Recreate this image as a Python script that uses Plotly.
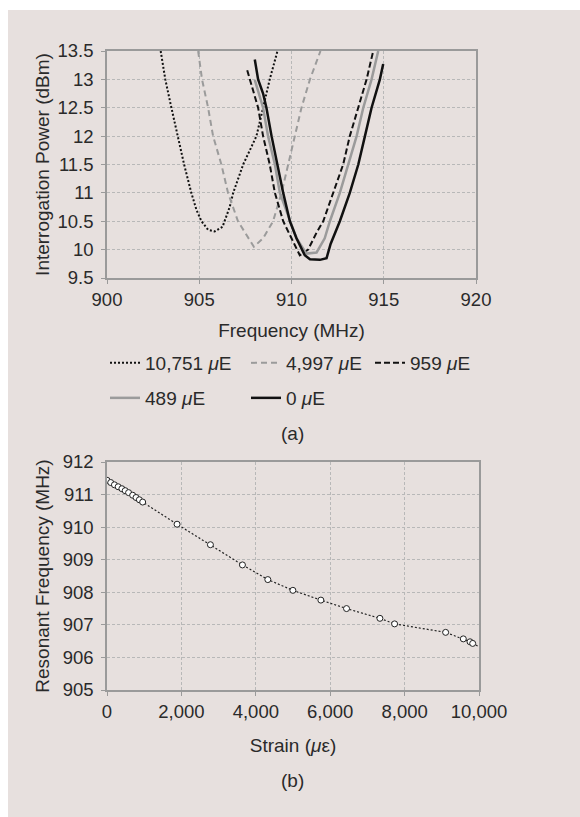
import plotly.graph_objects as go

# ---- (a) interrogation power vs frequency ----
f_10751 = [902.91, 903.16, 903.49, 903.82, 904.18, 904.57, 904.85, 905.12, 905.48, 905.84, 906.26, 906.65, 906.84, 907.38, 908.10, 908.46, 908.82, 909.24]
p_10751 = [13.5, 13.0, 12.5, 12.0, 11.5, 11.0, 10.7, 10.5, 10.35, 10.32, 10.4, 10.75, 11.0, 11.5, 12.0, 12.5, 13.0, 13.5]

f_4997 = [904.94, 905.15, 905.48, 905.75, 906.20, 906.56, 907.10, 907.65, 907.96, 908.46, 909.00, 909.46, 909.82, 910.18, 910.54, 911.00, 911.57]
p_4997 = [13.5, 13.0, 12.5, 12.0, 11.5, 11.0, 10.5, 10.2, 10.05, 10.2, 10.5, 11.0, 11.5, 12.0, 12.5, 13.0, 13.5]

f_959 = [907.60, 908.19, 908.46, 908.82, 909.10, 909.55, 910.00, 910.45, 910.90, 911.36, 911.72, 912.26, 912.80, 913.16, 913.62, 914.07, 914.43]
p_959 = [13.16, 12.5, 12.0, 11.5, 11.0, 10.5, 10.2, 9.9, 10.0, 10.3, 10.5, 11.0, 11.5, 12.0, 12.5, 13.0, 13.5]

f_489 = [908.01, 908.46, 908.73, 909.10, 909.37, 909.91, 910.27, 910.81, 911.36, 911.80, 912.08, 912.62, 913.07, 913.53, 913.89, 914.34, 914.70]
p_489 = [12.99, 12.5, 12.0, 11.5, 11.0, 10.5, 10.2, 9.93, 9.95, 10.2, 10.5, 11.0, 11.5, 12.0, 12.5, 13.0, 13.5]

f_0 = [908.01, 908.19, 908.46, 908.64, 908.92, 909.22, 909.55, 909.91, 910.27, 910.72, 911.00, 911.54, 911.90, 912.12, 912.62, 913.16, 913.62, 913.98, 914.34, 914.79, 914.97]
p_0 = [13.35, 13.0, 12.75, 12.5, 12.0, 11.5, 11.0, 10.5, 10.2, 9.9, 9.83, 9.82, 9.85, 10.1, 10.5, 11.0, 11.5, 12.0, 12.5, 13.0, 13.27]

labels_a = ["10,751 <i>μ</i>E", "4,997 <i>μ</i>E", "959 <i>μ</i>E", "489 <i>μ</i>E", "0 <i>μ</i>E"]

# ---- (b) resonant frequency vs strain ----
strain = [0, 100, 200, 300, 400, 489, 580, 690, 780, 870, 959, 1883, 2780, 3641, 4323, 4997, 5749, 6439, 7336, 7731, 9103, 9578, 9758, 9830, 10751]
res_freq = [911.44, 911.37, 911.30, 911.24, 911.18, 911.12, 911.06, 910.98, 910.91, 910.84, 910.77, 910.09, 909.46, 908.84, 908.39, 908.06, 907.76, 907.50, 907.20, 907.03, 906.77, 906.57, 906.48, 906.43, 905.90]

FONT = "Liberation Sans, Arial, sans-serif"
TXT = "#2a2a2a"
GRID = "#b8b8b8"
AX = "#9a9a9a"
TICK_SIZE = 18.5
TEXT_SIZE = 19

fig = go.Figure()

styles = [
    dict(color="#111111", width=2, dash="2px,2px"),
    dict(color="#9b9b9b", width=2, dash="6px,4px"),
    dict(color="#111111", width=2, dash="6px,3px"),
    dict(color="#9b9b9b", width=2.5, dash="solid"),
    dict(color="#111111", width=2.5, dash="solid"),
]
legend_of = ["legend", "legend", "legend3", "legend2", "legend2"]
series = [(f_10751, p_10751), (f_4997, p_4997), (f_959, p_959), (f_489, p_489), (f_0, p_0)]
for (fx, py), st, lab, lg in zip(series, styles, labels_a, legend_of):
    fig.add_trace(go.Scatter(x=fx, y=py, mode="lines", line=st, name=lab,
                             xaxis="x", yaxis="y", legend=lg))

fig.add_trace(go.Scatter(x=strain, y=res_freq, mode="lines+markers",
                         line=dict(color="#222222", width=1.2, dash="2px,2px"),
                         marker=dict(symbol="circle", size=6, color="white",
                                     line=dict(color="#222222", width=1)),
                         showlegend=False, xaxis="x2", yaxis="y2"))

W, H = 580, 817
def px(x): return x / W
def py_(y): return 1 - y / H

axcommon = dict(showline=True, linecolor=AX, linewidth=1.5, mirror=True,
                showgrid=True, gridcolor=GRID, griddash="3px,2px", gridwidth=1,
                ticks="outside", ticklen=4, tickcolor=AX, zeroline=False,
                automargin=False,
                tickfont=dict(family=FONT, size=TICK_SIZE, color=TXT))
yext = dict(ticklabelstandoff=4)

legcommon = dict(orientation="h", xanchor="left", yanchor="middle",
                 bgcolor="rgba(0,0,0,0)", itemwidth=30, traceorder="normal",
                 font=dict(family=FONT, size=TEXT_SIZE, color=TXT))

tfont = dict(family=FONT, size=TEXT_SIZE, color=TXT)

fig.update_layout(
    width=W, height=H, margin=dict(l=0, r=0, t=0, b=0, autoexpand=False),
    paper_bgcolor="white", plot_bgcolor="#fcfdff",
    font=dict(family=FONT, size=16, color=TXT),
    xaxis=dict(axcommon, domain=[px(107), px(476)], range=[900, 920], dtick=5,
               anchor="y", title=dict(text="Frequency (MHz)", standoff=15, font=tfont)),
    yaxis=dict(axcommon, **yext, domain=[py_(278), py_(51)], range=[9.5, 13.5], dtick=0.5,
               anchor="x", title=dict(text="Interrogation Power (dBm)", standoff=3, font=tfont)),
    xaxis2=dict(axcommon, domain=[px(107), px(479)], range=[0, 10000], dtick=2000,
                tickformat=",", anchor="y2", title=dict(text="Strain (<i>μ</i>ε)", standoff=18, font=tfont)),
    yaxis2=dict(axcommon, **yext, domain=[py_(690), py_(462)], range=[905, 912], dtick=1,
                anchor="x2", title=dict(text="Resonant Frequency (MHz)", standoff=8, font=tfont)),
    legend=dict(legcommon, x=px(105), y=py_(363), entrywidth=96),
    legend3=dict(legcommon, x=px(370), y=py_(363)),
    legend2=dict(legcommon, x=px(105), y=py_(398), entrywidth=96),
    shapes=[dict(type="rect", xref="paper", yref="paper", x0=px(8), x1=1, y0=0, y1=py_(10),
                 fillcolor="#e7e0de", line=dict(width=0), layer="below")],
    annotations=[
        dict(text="(a)", x=px(292), y=py_(433), xref="paper", yref="paper",
             xanchor="center", yanchor="middle", showarrow=False, font=tfont),
        dict(text="(b)", x=px(292), y=py_(780), xref="paper", yref="paper",
             xanchor="center", yanchor="middle", showarrow=False, font=tfont),
    ],
)

fig.write_html("out.html")
